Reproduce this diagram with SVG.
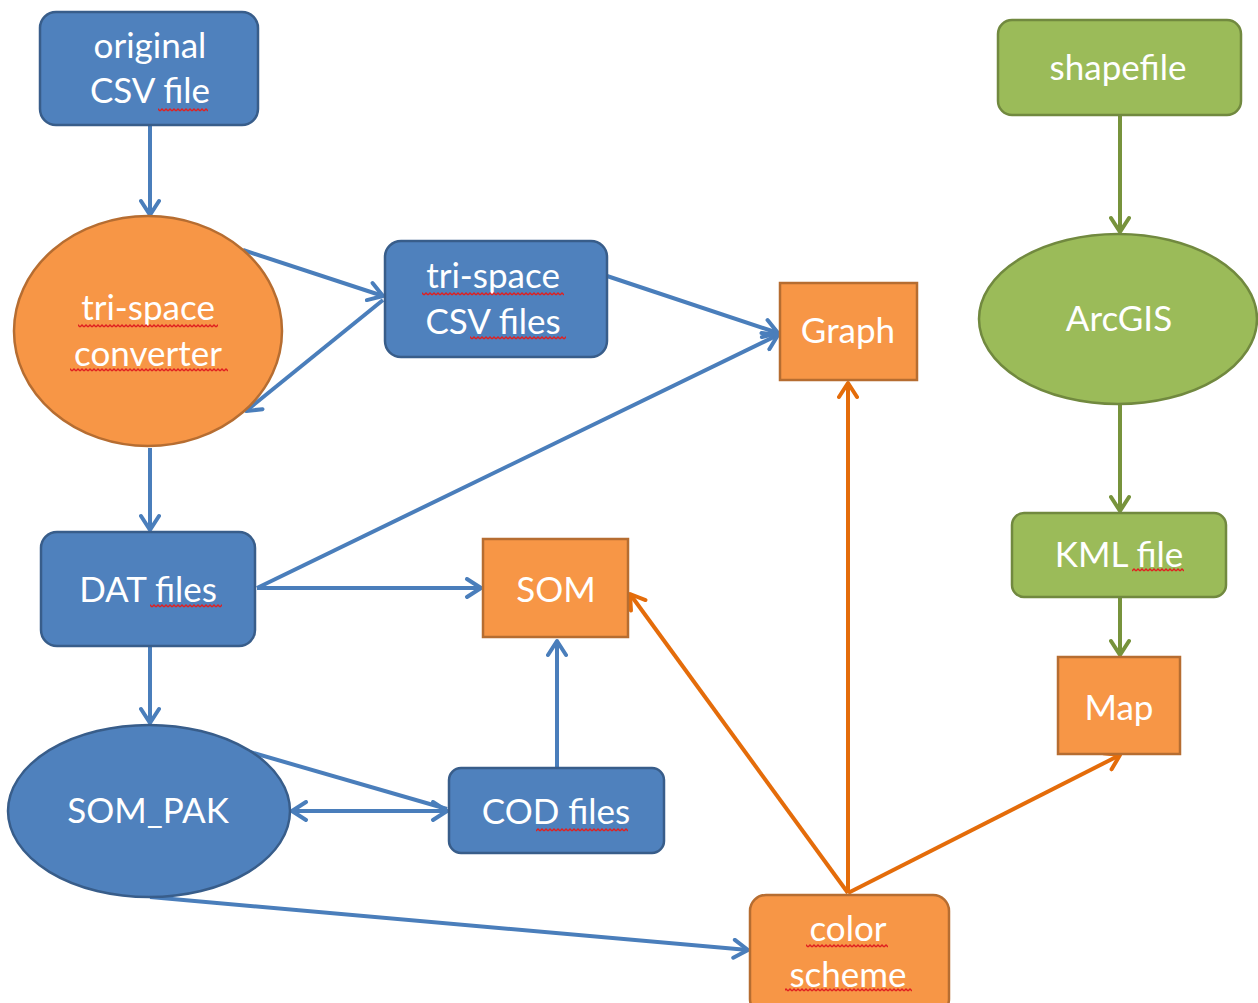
<svg xmlns="http://www.w3.org/2000/svg" width="1258" height="1003" viewBox="0 0 1258 1003">
<defs>
<style>
.blue{fill:#4F81BD;stroke:#385D8A;stroke-width:2.5}
.orange{fill:#F79646;stroke:#B66D31;stroke-width:2.5}
.green{fill:#9BBB59;stroke:#71893F;stroke-width:2.5}
.t{font-family:Lato,"Open Sans","Liberation Sans",sans-serif;font-size:35px;fill:#FFFFFF;text-anchor:middle}
.cb{stroke:#4A7EBB;stroke-width:4;fill:none;marker-end:url(#ab)}
.co{stroke:#E46C0A;stroke-width:4;fill:none;marker-end:url(#ao)}
.cg{stroke:#77933C;stroke-width:4;fill:none;marker-end:url(#ag)}
.sq{fill:url(#squig)}
</style>
<marker id="ab" viewBox="0 0 22 22" refX="19" refY="11" markerWidth="22" markerHeight="22" markerUnits="userSpaceOnUse" orient="auto-start-reverse"><path d="M5,2 L19,11 L5,20" fill="none" stroke="#4A7EBB" stroke-width="4" stroke-linecap="round" stroke-linejoin="round"/></marker>
<marker id="ao" viewBox="0 0 22 22" refX="19" refY="11" markerWidth="22" markerHeight="22" markerUnits="userSpaceOnUse" orient="auto"><path d="M5,2 L19,11 L5,20" fill="none" stroke="#E46C0A" stroke-width="4" stroke-linecap="round" stroke-linejoin="round"/></marker>
<marker id="ag" viewBox="0 0 22 22" refX="19" refY="11" markerWidth="22" markerHeight="22" markerUnits="userSpaceOnUse" orient="auto"><path d="M5,2 L19,11 L5,20" fill="none" stroke="#77933C" stroke-width="4" stroke-linecap="round" stroke-linejoin="round"/></marker>
<pattern id="squig" width="4" height="4" patternUnits="userSpaceOnUse"><path d="M0,3 L2,1 L4,3" fill="none" stroke="#E02020" stroke-width="1.4"/></pattern>
</defs>
<rect width="1258" height="1003" fill="#FFFFFF"/>
<g id="connectors">
<line class="cb" x1="150" y1="126" x2="150" y2="215"/>
<line class="cb" x1="243" y1="250" x2="383" y2="296"/>
<line class="cb" x1="383" y1="300" x2="246" y2="411"/>
<line class="cb" x1="607" y1="276" x2="778" y2="333"/>
<line class="cb" x1="257" y1="588" x2="778" y2="335"/>
<line class="cb" x1="257" y1="588" x2="481" y2="588"/>
<line class="cb" x1="150" y1="448" x2="150" y2="530"/>
<line class="cb" x1="150" y1="647" x2="150" y2="723"/>
<line stroke="#4A7EBB" stroke-width="4" x1="250" y1="752" x2="447" y2="809"/>
<line class="cb" style="marker-start:url(#ab)" x1="292" y1="811" x2="447" y2="811"/>
<line class="cb" x1="557" y1="768" x2="557" y2="641"/>
<line class="cb" x1="150" y1="897" x2="748" y2="950"/>
<line class="co" x1="848" y1="893" x2="630" y2="594"/>
<line class="co" x1="848" y1="893" x2="848" y2="383"/>
<line class="co" x1="848" y1="893" x2="1120" y2="755"/>
<line class="cg" x1="1120" y1="116" x2="1120" y2="232"/>
<line class="cg" x1="1120" y1="404" x2="1120" y2="511"/>
<line class="cg" x1="1120" y1="597" x2="1120" y2="655"/>
</g>
<g id="original-csv"><rect class="blue" x="40" y="12" width="218" height="113" rx="16"/><text class="t" x="150" y="58">original</text><text class="t" x="150" y="103">CSV file</text><rect class="sq" x="158" y="108" width="50" height="4"/></g>
<g id="converter"><ellipse class="orange" cx="148" cy="331" rx="134" ry="115"/><text class="t" x="148" y="320">tri-space</text><text class="t" x="148" y="366">converter</text><rect class="sq" x="78" y="324" width="140" height="4"/><rect class="sq" x="70" y="368" width="158" height="4"/></g>
<g id="trispace-csv"><rect class="blue" x="385" y="241" width="222" height="116" rx="16"/><text class="t" x="493" y="288">tri-space</text><text class="t" x="493" y="334">CSV files</text><rect class="sq" x="422" y="292" width="142" height="4"/><rect class="sq" x="470" y="336" width="96" height="4"/></g>
<g id="graph"><rect class="orange" x="780" y="283" width="137" height="97"/><text class="t" x="848" y="343">Graph</text></g>
<g id="shapefile"><rect class="green" x="998" y="20" width="243" height="95" rx="14"/><text class="t" x="1118" y="80">shapefile</text></g>
<g id="arcgis"><ellipse class="green" cx="1118" cy="319" rx="139" ry="85"/><text class="t" x="1119" y="331">ArcGIS</text></g>
<g id="kml"><rect class="green" x="1012" y="513" width="214" height="84" rx="12"/><text class="t" x="1119" y="567">KML file</text><rect class="sq" x="1132" y="568" width="52" height="4"/></g>
<g id="map"><rect class="orange" x="1058" y="657" width="122" height="97"/><text class="t" x="1119" y="720">Map</text></g>
<g id="dat"><rect class="blue" x="41" y="532" width="214" height="114" rx="16"/><text class="t" x="148" y="602">DAT files</text><rect class="sq" x="150" y="604" width="72" height="4"/></g>
<g id="som"><rect class="orange" x="483" y="539" width="145" height="98"/><text class="t" x="556" y="602">SOM</text></g>
<g id="sompak"><ellipse class="blue" cx="149" cy="811" rx="141" ry="86"/><text class="t" x="148" y="823">SOM_PAK</text></g>
<g id="cod"><rect class="blue" x="449" y="768" width="215" height="85" rx="12"/><text class="t" x="556" y="824">COD files</text><rect class="sq" x="536" y="828" width="92" height="4"/></g>
<g id="color-scheme"><rect class="orange" x="750" y="895" width="199" height="120" rx="16"/><text class="t" x="848" y="941">color</text><text class="t" x="848" y="987">scheme</text><rect class="sq" x="806" y="944" width="82" height="4"/><rect class="sq" x="785" y="988" width="127" height="4"/></g>
</svg>
